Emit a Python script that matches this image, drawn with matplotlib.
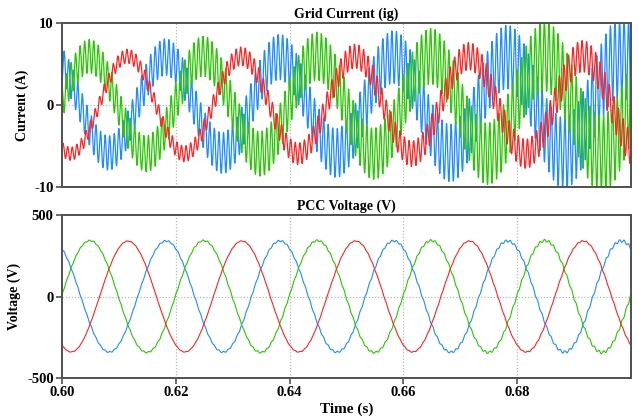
import numpy as np
import matplotlib
matplotlib.use("Agg")
import matplotlib.pyplot as plt

# ---------------- data ----------------
t_start, t_end = 0.60, 0.70
f_grid = 50.0            # Hz, fundamental
f_ripple = 1250.0        # Hz, switching ripple seen on currents / voltages

phase_colors = ["#ff2424", "#28c800", "#1e8cff"]   # red, green, blue
draw_order = [2, 1, 0]                              # blue, green, red

# fundamental of grid current (A) and time of its positive peak (s)
current_peak = [5.95, 5.95, 5.85]
current_peak_time = [0.6115, 0.6048, 0.6182]

# fundamental of PCC voltage (V) and time of its positive peak (s)
voltage_peak = [340.0, 343.0, 341.0]
voltage_peak_time = [0.6116, 0.6049, 0.6183]

# ripple half-amplitude envelope (A) read at these times
env_time = [0.60, 0.61, 0.62, 0.63, 0.64, 0.65, 0.66, 0.67, 0.68, 0.69, 0.70]
ripple_red = [0.80, 0.85, 0.95, 1.10, 1.30, 1.45, 1.55, 1.65, 1.75, 1.90, 2.00]
ripple_green = [2.00, 2.10, 2.30, 2.60, 2.85, 3.00, 3.25, 3.55, 3.95, 4.50, 4.90]
ripple_blue = [2.05, 2.10, 2.25, 2.55, 2.80, 3.00, 3.25, 3.55, 3.95, 4.40, 4.90]
ripple_phase = [0.0, 0.55, 1.55]          # in units of pi
voltage_ripple_per_amp = 1.8              # V of ripple per A of current ripple

x_ticks = [0.60, 0.62, 0.64, 0.66, 0.68]
x_tick_labels = ["0.60", "0.62", "0.64", "0.66", "0.68"]
cur_ticks = [-10, 0, 10]
volt_ticks = [-500, 0, 500]

# ---------------- build waveforms ----------------
t = np.linspace(t_start, t_end, 24000)
ripples = [ripple_red, ripple_green, ripple_blue]
currents, voltages = [], []
for k in range(3):
    env = np.interp(t, env_time, ripples[k])
    carrier = np.sin(2 * np.pi * f_ripple * t + np.pi * ripple_phase[k])
    i_k = current_peak[k] * np.cos(2 * np.pi * f_grid * (t - current_peak_time[k])) + env * carrier
    v_k = voltage_peak[k] * np.cos(2 * np.pi * f_grid * (t - voltage_peak_time[k])) \
        + voltage_ripple_per_amp * env * carrier
    currents.append(i_k)
    voltages.append(v_k)

# ---------------- plot ----------------
plt.rcParams["font.family"] = ["Liberation Serif", "DejaVu Serif"]
plt.rcParams["font.weight"] = "bold"
plt.rcParams["font.size"] = 10

fig = plt.figure(figsize=(6.39, 4.20), dpi=100)
ax1 = fig.add_axes([62 / 639, 1 - 187 / 420, 569 / 639, 164 / 420])
ax2 = fig.add_axes([62 / 639, 1 - 378 / 420, 569 / 639, 163 / 420])

spine_col = "#505050"
for ax in (ax1, ax2):
    for s in ax.spines.values():
        s.set_color(spine_col)
        s.set_linewidth(1.4)
    ax.set_xlim(t_start, t_end)
    ax.set_xticks(x_ticks)
    for xv in x_ticks[1:]:
        ax.axvline(xv, color="#b8b8b8", ls=(0, (1, 1.5)), lw=0.9, zorder=0)
    ax.axhline(0, color="#b8b8b8", ls=(0, (1, 1.5)), lw=0.9, zorder=0)
    ax.tick_params(axis="y", direction="out", length=4, width=1.2, color=spine_col,
                   labelsize=10.5, pad=2, right=False)
    ax.tick_params(axis="x", direction="out", length=4, width=1.2, color=spine_col,
                   labelsize=10.5, pad=2, top=False)

for k in draw_order:
    ax1.plot(t, currents[k], color=phase_colors[k], lw=0.9, zorder=2)
    ax2.plot(t, voltages[k], color=phase_colors[k], lw=0.8, zorder=2)

ax1.set_ylim(-10, 10)
ax1.set_yticks(cur_ticks)
ax1.set_yticklabels([str(v) for v in cur_ticks], fontweight="bold")
ax1.tick_params(axis="x", length=0, labelbottom=False)
ax1.set_ylabel("Current (A)", fontweight="bold", labelpad=4)
ax1.set_title("Grid Current (ig)", fontweight="bold", fontsize=10, pad=4)

ax2.set_ylim(-500, 500)
ax2.set_yticks(volt_ticks)
ax2.set_yticklabels([str(v) for v in volt_ticks], fontweight="bold")
ax2.set_xticklabels(x_tick_labels, fontweight="bold")
ax2.set_ylabel("Voltage (V)", fontweight="bold", labelpad=4)
ax2.set_xlabel("Time (s)", fontweight="bold", fontsize=11, labelpad=2)
ax2.set_title("PCC Voltage (V)", fontweight="bold", fontsize=10, pad=4)

fig.savefig("out.png", dpi=100)
